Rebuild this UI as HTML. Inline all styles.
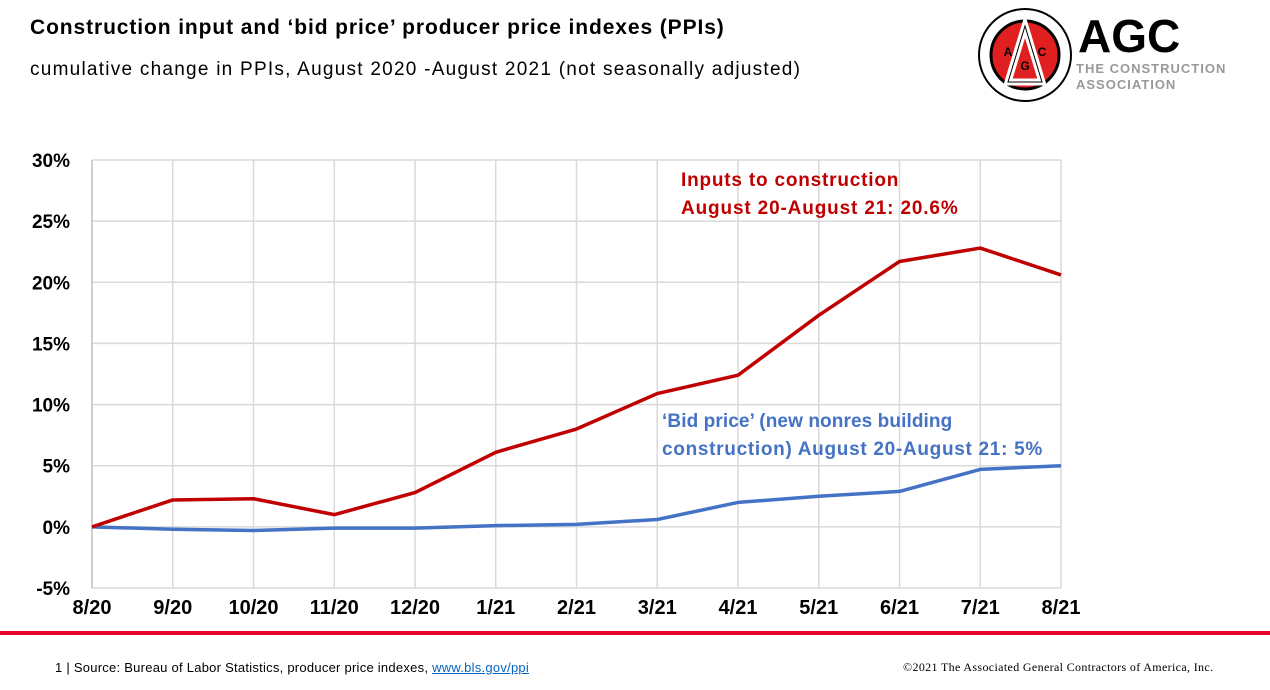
<!DOCTYPE html>
<html><head><meta charset="utf-8"><style>
body{margin:0;width:1270px;height:690px;background:#fff;overflow:hidden;font-family:"Liberation Sans",sans-serif;position:relative}
.t{position:absolute;white-space:nowrap}
</style></head><body>
<div class="t" style="left:30px;top:16px;font-size:21px;font-weight:bold;color:#000;letter-spacing:0.9px">Construction input and ‘bid price’ producer price indexes (PPIs)</div>
<div class="t" style="left:30px;top:59px;font-size:19px;color:#000;letter-spacing:1.25px">cumulative change in PPIs, August 2020 -August 2021 (not seasonally adjusted)</div>
<svg style="position:absolute;left:978px;top:8px" width="260" height="95">
<circle cx="47" cy="47" r="46" fill="#fff" stroke="#000" stroke-width="2"/>
<circle cx="47" cy="47" r="34" fill="#e02020" stroke="#000" stroke-width="3"/>
<path d="M47 18 L30 74 L64 74 Z" fill="none" stroke="#fff" stroke-width="7"/>
<path d="M47 18 L30 74 L64 74 Z" fill="none" stroke="#000" stroke-width="1"/>
<text x="30" y="48" font-size="12" font-weight="bold" text-anchor="middle">A</text>
<text x="47" y="62" font-size="12" font-weight="bold" text-anchor="middle">G</text>
<text x="64" y="48" font-size="12" font-weight="bold" text-anchor="middle">C</text>
<text x="100" y="44" font-size="46" font-weight="bold" fill="#000">AGC</text>
<text x="98" y="65" font-size="13" font-weight="bold" fill="#999" letter-spacing="1">THE CONSTRUCTION</text>
<text x="98" y="81" font-size="13" font-weight="bold" fill="#999" letter-spacing="1">ASSOCIATION</text>
</svg>
<svg id="chart" style="position:absolute;left:0;top:0" width="1270" height="690"></svg>
<div style="position:absolute;left:0;top:631px;width:1270px;height:4px;background:#e8002a"></div>
<div class="t" style="left:55px;top:660px;font-size:13px;color:#000;letter-spacing:0.25px">1 | Source: Bureau of Labor Statistics, producer price indexes, <span style="color:#0563c1;text-decoration:underline">www.bls.gov/ppi</span></div>
<div class="t" style="left:903px;top:660px;font-size:12px;font-family:'Liberation Serif',serif;color:#000;letter-spacing:0.35px">©2021 The Associated General Contractors of America, Inc.</div>
<script>
const categories=["8/20","9/20","10/20","11/20","12/20","1/21","2/21","3/21","4/21","5/21","6/21","7/21","8/21"];
const inputsSeries=[0,2.2,2.3,1.0,2.8,6.1,8.0,10.9,12.4,17.3,21.7,22.8,20.6];
const bidSeries=[0,-0.2,-0.3,-0.1,-0.1,0.1,0.2,0.6,2.0,2.5,2.9,4.7,5.0];
const yTicks=[-5,0,5,10,15,20,25,30];
const yTickLabels=["-5%","0%","5%","10%","15%","20%","25%","30%"];
const NS="http://www.w3.org/2000/svg";
const svg=document.getElementById('chart');
const x0=92,x1=1061,yTop=160,yBot=588,yMin=-5,yMax=30;
const xs=i=>x0+(x1-x0)*i/(categories.length-1);
const ys=v=>yBot-(v-yMin)/(yMax-yMin)*(yBot-yTop);
function mk(tag,a){const e=document.createElementNS(NS,tag);for(const k in a)e.setAttribute(k,a[k]);svg.appendChild(e);return e;}
yTicks.forEach((v,i)=>{
 const g=mk('line',{x1:x0,x2:x1,y1:ys(v),y2:ys(v),stroke:'#d9d9d9','stroke-width':1.5});
 
 
 const t=mk('text',{x:70,y:ys(v)+7,'text-anchor':'end','font-size':19,'font-weight':'bold','font-family':'Liberation Sans, sans-serif'});
 t.textContent=yTickLabels[i];
 
 
});
categories.forEach((c,i)=>{
 const g=mk('line',{x1:xs(i),x2:xs(i),y1:yTop,y2:yBot,stroke:i==0?'#bfbfbf':'#d9d9d9','stroke-width':1.5});
 
 
 const t=mk('text',{x:xs(i),y:614,'text-anchor':'middle','font-size':20,'font-weight':'bold','font-family':'Liberation Sans, sans-serif'});
 t.textContent=c;
 
 
});
function line(data,color,name){
 const p=mk('polyline',{points:data.map((v,i)=>xs(i)+','+ys(v)).join(' '),fill:'none',stroke:color,'stroke-width':3.5,'stroke-linejoin':'round'});
 
 
}
line(bidSeries,'#4472c4','bid-price-line');
line(inputsSeries,'#c00000','inputs-line');
function lab(txt,x,y,color,name,ls){const t=mk('text',{x:x,y:y,'font-size':19,'font-weight':'bold',fill:color,'letter-spacing':ls,'font-family':'Liberation Sans, sans-serif'});t.textContent=txt;
 
 }
lab('Inputs to construction',681,186,'#c00000','inputs-annotation-1',0.8);
lab('August 20-August 21: 20.6%',681,214,'#c00000','inputs-annotation-2',0.85);
lab('‘Bid price’ (new nonres building',662,427,'#4472c4','bid-annotation-1',0.1);
lab('construction) August 20-August 21: 5%',662,455,'#4472c4','bid-annotation-2',0.7);
</script>
</body></html>
